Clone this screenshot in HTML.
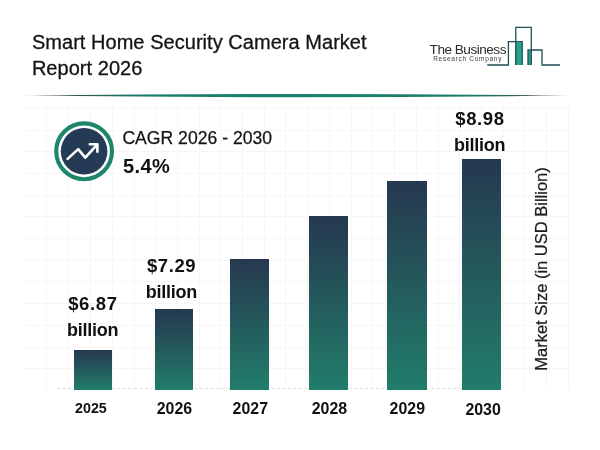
<!DOCTYPE html>
<html>
<head>
<meta charset="utf-8">
<title>Smart Home Security Camera Market Report 2026</title>
<style>
html,body{margin:0;padding:0;background:#fff;}
body{width:600px;height:450px;position:relative;overflow:hidden;font-family:"Liberation Sans",sans-serif;color:#1a1a1a;}
.abs{position:absolute;white-space:nowrap;}
#bg{position:absolute;left:0;top:0;}
.title{-webkit-text-stroke:0.3px #141414;left:31.9px;top:29px;font-size:20px;line-height:26px;color:#141414;letter-spacing:0.04px;}
.bar{position:absolute;background:linear-gradient(to bottom,#25384f 0%,#245a5c 50%,#217d6b 100%);}
.yr{font-weight:bold;font-size:15.9px;text-align:center;transform:translateX(-50%);color:#111;}
.val{letter-spacing:-0.25px;font-weight:bold;font-size:18px;line-height:25.6px;text-align:center;transform:translateX(-50%);color:#111;}
.val b{font-size:18.5px;letter-spacing:0.6px;margin-right:-0.6px;}
.cagr{-webkit-text-stroke:0.25px #141414;left:122.4px;top:127.8px;font-size:17.6px;color:#141414;}
.pct{left:123px;top:155.2px;font-size:20px;font-weight:bold;color:#111;letter-spacing:0.4px;}
.ylab{-webkit-text-stroke:0.25px #1c1c1c;left:541px;top:269.1px;font-size:16.5px;transform:translate(-50%,-50%) rotate(-90deg);color:#1c1c1c;}
.l1{left:429.6px;top:42.1px;font-size:13.6px;color:#2a2a2a;letter-spacing:-0.5px;}
.l2{left:433.2px;top:55.4px;font-size:6.5px;color:#3a3a3a;letter-spacing:0.72px;}
</style>
</head>
<body>
<svg id="bg" width="600" height="450" viewBox="0 0 600 450">
  <defs>
    <linearGradient id="hl" gradientUnits="userSpaceOnUse" x1="20" y1="0" x2="574" y2="0">
      <stop offset="0" stop-color="#3a4648" stop-opacity="0"/>
      <stop offset="0.04" stop-color="#3a4648" stop-opacity="0.75"/>
      <stop offset="0.1" stop-color="#33504f"/>
      <stop offset="0.2" stop-color="#1a7a68"/>
      <stop offset="0.5" stop-color="#17856f"/>
      <stop offset="0.83" stop-color="#1a7a68"/>
      <stop offset="0.92" stop-color="#35504f"/>
      <stop offset="0.97" stop-color="#3a4648" stop-opacity="0.7"/>
      <stop offset="1" stop-color="#3a4648" stop-opacity="0"/>
    </linearGradient>
  </defs>
  <!-- grid -->
  <g stroke="#f6f6f6" stroke-width="1">
    <path d="M25 108.5H568M25 130.5H568M25 151.5H568M25 173.5H568M25 195.5H568M25 216.5H568M25 238.5H568M25 260.5H568M25 281.5H568M25 303.5H568M25 325.5H568M25 347.5H568M25 368.5H568"/>
    <path d="M46.5 106V389M68.5 106V389M90.5 106V389M112.5 106V389M134.5 106V389M155.5 106V389M177.5 106V389M199.5 106V389M220.5 106V389M242.5 106V389M264.5 106V389M285.5 106V389M307.5 106V389M329.5 106V389M351.5 106V389M372.5 106V389M394.5 106V389M416.5 106V389M438.5 106V389M459.5 106V389M481.5 106V389M503.5 106V389M524.5 106V389M546.5 106V389M568.5 106V389"/>
  </g>
  <path d="M57 388.5H462" stroke="#dedede" stroke-width="1" stroke-dasharray="3 2.5"/>
  <!-- header line -->
  <path d="M20 95.6Q297 92.4 574 95.6Q297 98.8 20 95.6Z" fill="url(#hl)"/>
  <!-- logo -->
  <rect x="515.3" y="42.2" width="7.1" height="22.8" fill="#25a587"/>
  <rect x="528" y="50.6" width="3.3" height="14.4" fill="#25a587"/>
  <g fill="none" stroke="#1f4f55" stroke-width="1.3" stroke-linejoin="miter">
    <path d="M487.3 65H508.4V41.6H522.2V65"/>
    <path d="M515.8 65V27.3H531.3V65"/>
    <path d="M528 65V50H542V65H560"/>
  </g>
  <!-- icon -->
  <circle cx="84.1" cy="151.3" r="27.9" fill="none" stroke="#1d866a" stroke-width="4.1"/>
  <circle cx="84.1" cy="151.3" r="23.3" fill="#253a55"/>
  <g fill="none" stroke="#fff" stroke-width="2.6" stroke-linecap="round" stroke-linejoin="round">
    <path d="M67.6 158.9L78.2 149.1L85.3 157.6L96.8 144.8"/>
    <path d="M89.8 144.2H97.4V151.8"/>
  </g>
</svg>

<div class="abs title">Smart Home Security Camera Market<br>Report 2026</div>
<div class="abs l1">The Business</div>
<div class="abs l2">Research Company</div>

<div class="abs cagr">CAGR 2026 - 2030</div>
<div class="abs pct">5.4%</div>

<div class="bar" style="left:73.7px;top:349.5px;width:38.8px;height:40.8px"></div>
<div class="bar" style="left:154.5px;top:309px;width:38.8px;height:81.3px"></div>
<div class="bar" style="left:230px;top:259.2px;width:39px;height:131.1px"></div>
<div class="bar" style="left:309.3px;top:216.3px;width:39.2px;height:174.0px"></div>
<div class="bar" style="left:387.4px;top:181.3px;width:39.3px;height:209.0px"></div>
<div class="bar" style="left:462.2px;top:159px;width:38.9px;height:231.3px"></div>

<div class="abs val" style="left:92.6px;top:291px"><b>$6.87</b><br>billion</div>
<div class="abs val" style="left:171.3px;top:253.3px"><b>$7.29</b><br>billion</div>
<div class="abs val" style="left:479.7px;top:106px"><b>$8.98</b><br>billion</div>

<div class="abs yr" style="left:90.9px;top:399.5px;font-size:14.3px">2025</div>
<div class="abs yr" style="left:174.4px;top:400.1px">2026</div>
<div class="abs yr" style="left:250.3px;top:400.1px">2027</div>
<div class="abs yr" style="left:329.4px;top:400.1px">2028</div>
<div class="abs yr" style="left:407.3px;top:399.7px">2029</div>
<div class="abs yr" style="left:483.1px;top:401.3px">2030</div>

<div class="abs ylab">Market Size (in USD Billion)</div>
</body>
</html>
